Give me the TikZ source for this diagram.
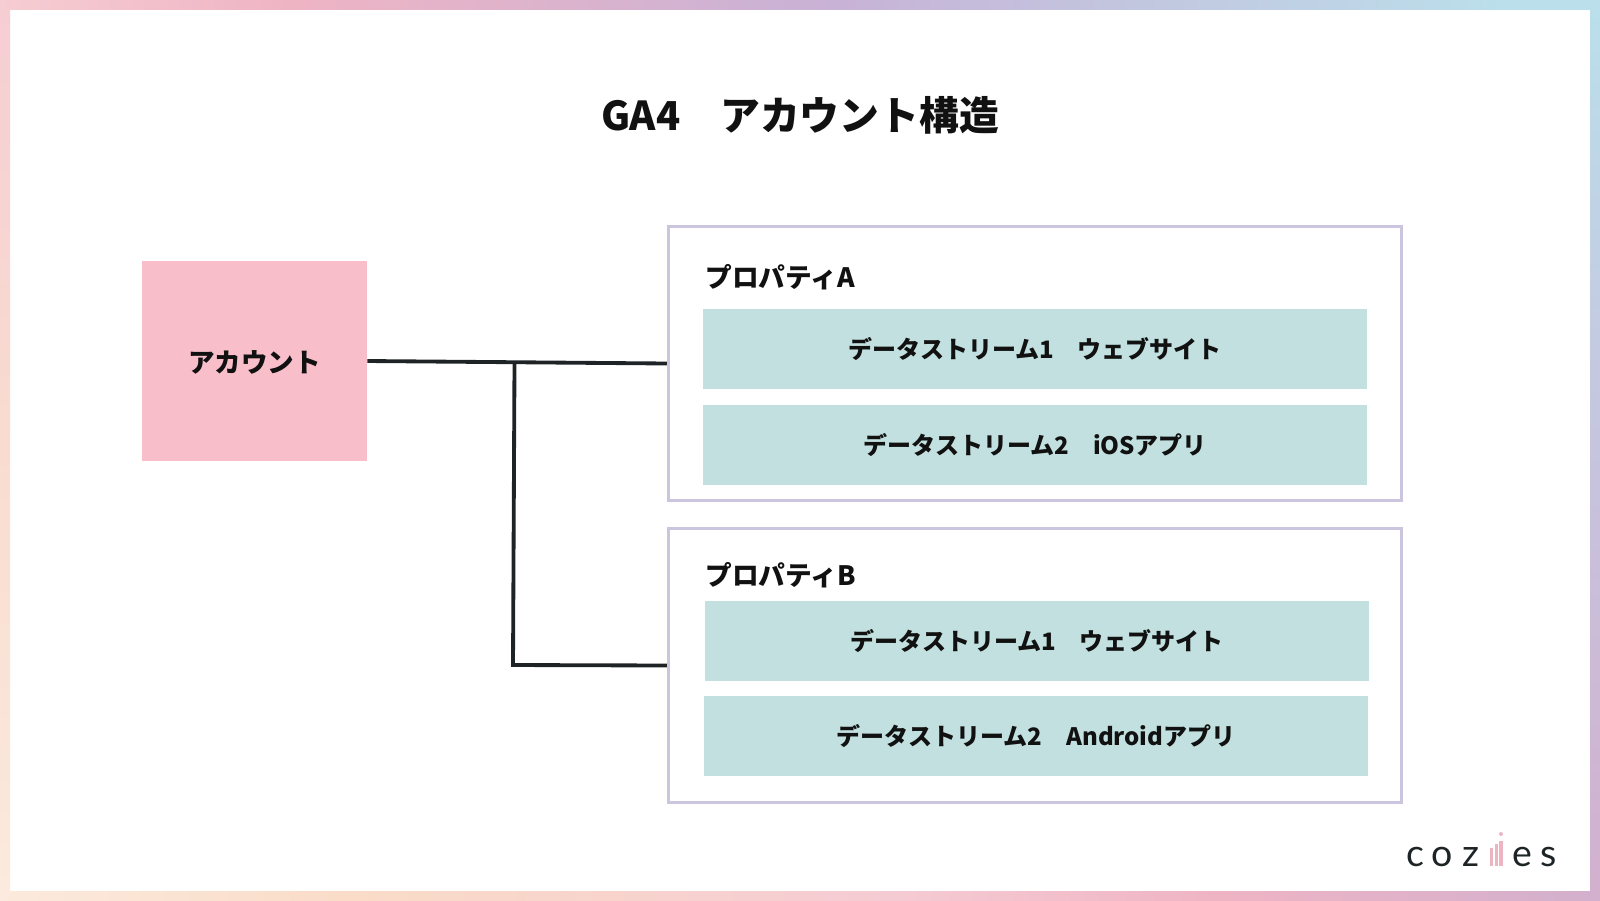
\documentclass[tikz,border=0pt]{standalone}
\usepackage{fontspec}
\setmainfont{Noto Sans CJK JP}
\newfontfamily\logofont{Lato}
\usepackage{xcolor}
\definecolor{inkblack}{HTML}{111111}
\definecolor{linedark}{HTML}{1E2426}
\definecolor{accountpink}{HTML}{F8BECA}
\definecolor{streamteal}{HTML}{C1E0DF}
\definecolor{propline}{HTML}{CBC5E0}
\definecolor{barpink}{HTML}{EDB4C2}
\definecolor{pink0}{HTML}{F6CDD3}
\definecolor{pink1}{HTML}{EFB4C4}
\definecolor{pink2}{HTML}{F5CBD3}
\definecolor{mauve0}{HTML}{C8B2D6}
\definecolor{mauve1}{HTML}{D2B0CE}
\definecolor{mauve2}{HTML}{C6C4DF}
\definecolor{blue0}{HTML}{BBDFEB}
\definecolor{cream0}{HTML}{FBEADD}
\definecolor{peach0}{HTML}{FADCC8}
\definecolor{peach1}{HTML}{F9DCCF}
% the part of a shading that fills a path runs from 25bp to 75bp
\pgfdeclarehorizontalshading{topband}{100bp}{color(0bp)=(pink0);color(25bp)=(pink0);color(34bp)=(pink1);color(51bp)=(mauve0);color(72bp)=(blue0);color(100bp)=(blue0)}
\pgfdeclarehorizontalshading{bottomband}{100bp}{color(0bp)=(cream0);color(25bp)=(cream0);color(36bp)=(peach0);color(53bp)=(pink2);color(63bp)=(pink1);color(75bp)=(mauve1);color(100bp)=(mauve1)}
\pgfdeclareverticalshading{leftband}{100bp}{color(0bp)=(cream0);color(25bp)=(cream0);color(50bp)=(peach1);color(75bp)=(pink0);color(100bp)=(pink0)}
\pgfdeclareverticalshading{rightband}{100bp}{color(0bp)=(mauve1);color(25bp)=(mauve1);color(50bp)=(mauve2);color(75bp)=(blue0);color(100bp)=(blue0)}
\tikzset{
  accountbox/.style={fill=accountpink, minimum width=135pt, minimum height=120pt, inner sep=0pt,
    font=\fontsize{15.95pt}{18pt}\bfseries, text=inkblack, text height=15.5pt, text depth=1.5pt},
  propbox/.style={draw=propline, line width=1.8pt, fill=white, minimum width=440pt, minimum height=164.4pt, inner sep=0pt},
  streambox/.style={fill=streamteal, minimum width=398.4pt, minimum height=48pt, inner sep=0pt,
    font=\fontsize{14.4pt}{17pt}\bfseries, text=inkblack, text height=13.4pt, text depth=1.5pt},
  proplabel/.style={anchor=west, inner sep=0pt, font=\fontsize{16pt}{18pt}\bfseries, text=inkblack},
  logoletter/.style={anchor=base, inner sep=0pt, font=\fontsize{22.5pt}{24pt}\logofont, text=linedark},
  wire/.style={draw=linedark, line width=2.3pt},
}
\begin{document}
\begin{tikzpicture}[x=0.6pt, y=-0.6pt]
  \useasboundingbox (0,0) rectangle (1600,900);
  % frame
  \shade[shading=topband] (0,0) rectangle (1600,9);
  \shade[shading=bottomband] (0,891) rectangle (1600,900);
  \shade[shading=leftband] (0,9) rectangle (10,891);
  \shade[shading=rightband] (1590,9) rectangle (1600,891);
  \node[font=\fontsize{23.9pt}{28pt}\bfseries, text=inkblack, inner sep=0pt] (title) at (800,115) {GA4　アカウント構造};
  \node[accountbox] (account) at (254.5,361) {アカウント};
  \node[propbox] (propA) at (1035,363.5) {};
  \node[propbox] (propB) at (1035,665.5) {};
  \node[proplabel] (labelA) at (705,277.5) {プロパティA};
  \node[proplabel] (labelB) at (705,575.5) {プロパティB};
  \node[streambox] (streamAa) at (1035,349) {データストリーム1　ウェブサイト};
  \node[streambox] (streamAb) at (1035,445) {データストリーム2　iOSアプリ};
  \node[streambox] (streamBa) at (1037,641) {データストリーム1　ウェブサイト};
  \node[streambox] (streamBb) at (1036,736) {データストリーム2　Androidアプリ};
  % connectors
  \coordinate (branch) at (514.5,362);
  \coordinate (corner) at (513,665);
  \draw[wire] (account.east) -- (propA.west);
  \draw[wire] (branch) -- (corner) -- (propB.west);
  % logo
  \node[logoletter] (logoc) at (1415,866) {c};
  \node[logoletter] (logoo) at (1442.5,866) {o};
  \node[logoletter] (logoz) at (1470.5,866) {z};
  \node[logoletter] (logoe) at (1522.5,866) {e};
  \node[logoletter] (logos) at (1549,866) {s};
  \fill[barpink] (1490,848) rectangle (1493,866);
  \fill[barpink] (1495,844) rectangle (1498,866);
  \fill[barpink] (1499,841) rectangle (1503,866);
  \fill[barpink] (1501,834) circle (2);
\end{tikzpicture}
\end{document}
